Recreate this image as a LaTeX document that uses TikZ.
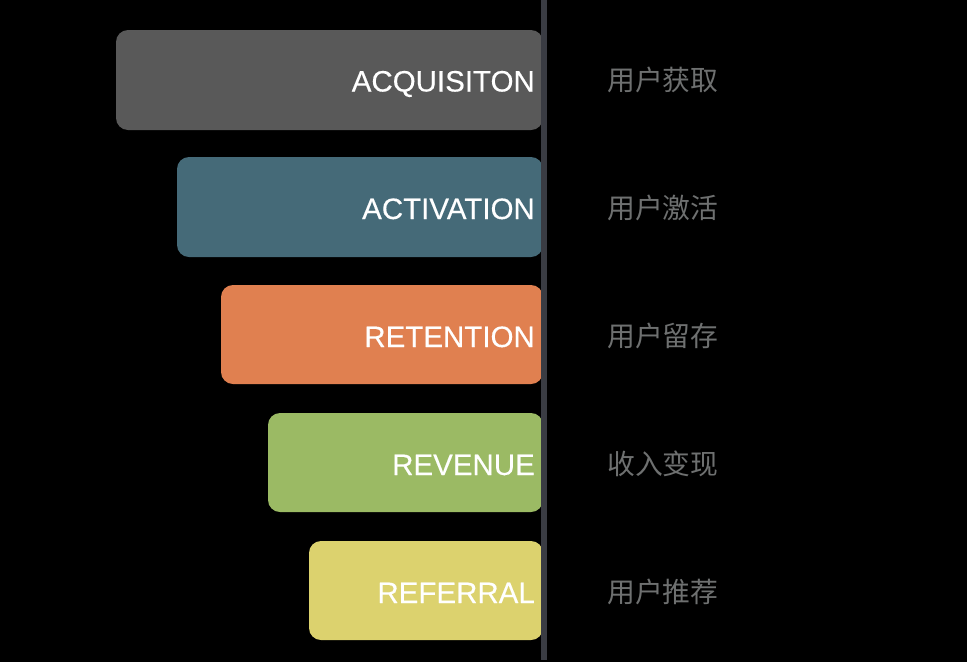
\documentclass[tikz,border=0pt]{standalone}
\usepackage{fontspec}
\setmainfont{Liberation Sans}
\newfontfamily\enfont{Liberation Sans}[FakeBold=0.3]
\newfontfamily\cjk{Noto Sans CJK SC}
\begin{document}
\begin{tikzpicture}[x=1pt,y=-1pt,
  bar/.style={rounded corners=12pt},
  en/.style={anchor=base east,text=white,font=\enfont\fontsize{29.5}{30}\selectfont,inner sep=0pt},
  zh/.style={anchor=base west,text=zhgray,font=\cjk\fontsize{27.8}{28}\selectfont,inner sep=0pt}]
\definecolor{c1}{HTML}{595959}
\definecolor{c2}{HTML}{456A78}
\definecolor{c3}{HTML}{E08050}
\definecolor{c4}{HTML}{9BBA64}
\definecolor{c5}{HTML}{DCD26E}
\definecolor{zhgray}{HTML}{6E7070}
\definecolor{axis}{HTML}{3A3C43}
\fill[black] (0,0) rectangle (967,662);
\useasboundingbox (0,0) rectangle (967,662);
\fill[c1,bar] (116,30) rectangle (543,130);
\fill[c2,bar] (177,157) rectangle (543,257);
\fill[c3,bar] (221,285) rectangle (543,384);
\fill[c4,bar] (268,413) rectangle (543,512);
\fill[c5,bar] (309,541) rectangle (543,640);
\fill[axis] (541,0) rectangle (547,660);
\node[en] (t1) at (535,91.5) {ACQUISITON};
\node[en] (t2) at (535,219) {ACTIVATION};
\node[en] (t3) at (535,347) {RETENTION};
\node[en] (t4) at (535,475) {REVENUE};
\node[en] (t5) at (535,603) {REFERRAL};
\node[zh] (z1) at (607,90.6) {用户获取};
\node[zh] (z2) at (607,218.6) {用户激活};
\node[zh] (z3) at (607,346.6) {用户留存};
\node[zh] (z4) at (607,474.6) {收入变现};
\node[zh] (z5) at (607,602.6) {用户推荐};
\end{tikzpicture}
\end{document}
